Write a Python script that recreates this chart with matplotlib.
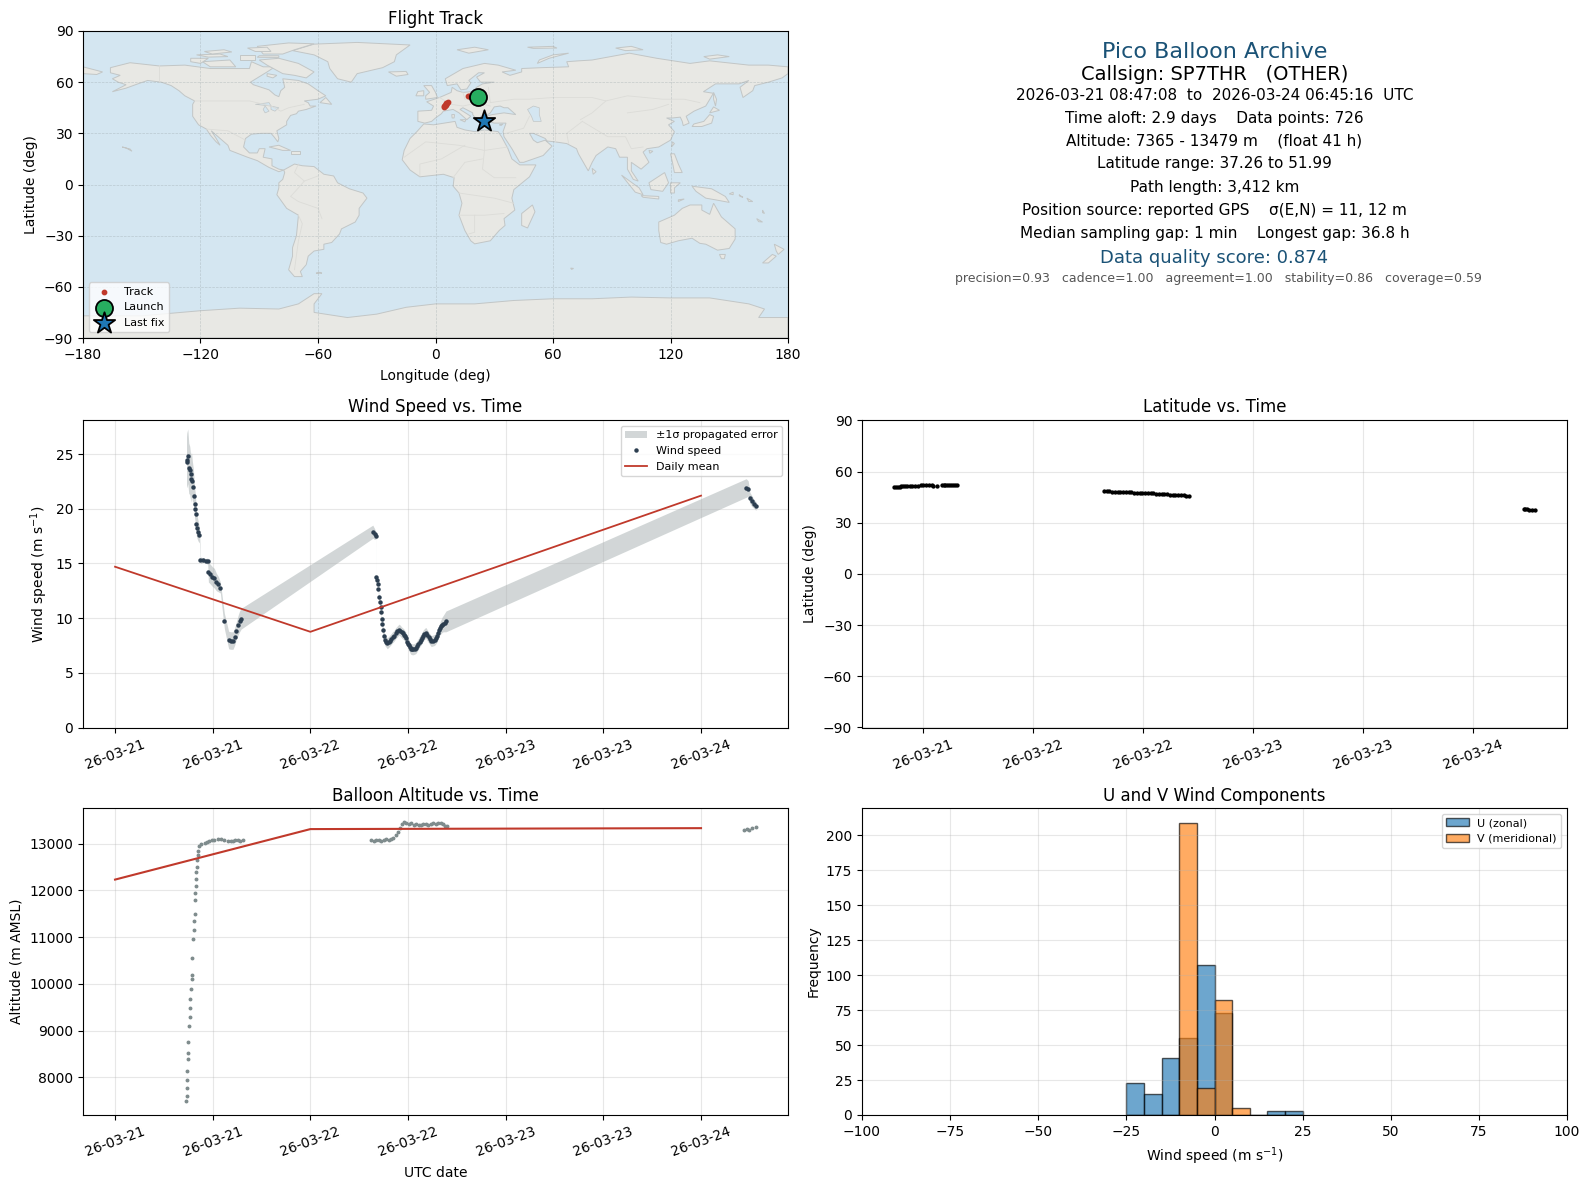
import numpy as np
import pandas as pd
from matplotlib import pyplot as plt
import matplotlib.dates as mdates
from matplotlib.ticker import MultipleLocator

# wind speed samples, hours after 2026-03-21 00:00
wind_hours = [8.78, 8.82, 8.94, 9.06, 9.18, 9.31, 9.39, 9.51, 9.63, 9.71, 9.8, 9.88, 9.92, 10.0, 10.12, 10.24, 10.37,
              10.49, 10.82, 11.14, 11.39, 11.47, 11.67, 11.96, 12.2, 12.45, 12.7, 12.94, 13.43, 13.96, 14.2, 14.49,
              14.69, 14.9, 15.14, 15.3, 15.5,
              31.67, 31.88, 32.08, 32.12, 32.2, 32.29, 32.33, 32.41, 32.54, 32.62, 32.7, 32.74, 32.82, 32.9, 32.99,
              33.15, 33.3, 33.44, 33.6, 33.77, 33.95, 34.1, 34.3, 34.47, 34.7, 34.89, 35.05, 35.2, 35.35, 35.5, 35.62,
              35.75, 35.92, 36.02, 36.12, 36.22, 36.33, 36.5, 36.66, 36.8, 36.95, 37.12, 37.28, 37.42, 37.57, 37.72,
              37.86, 38.02, 38.19, 38.35, 38.52, 38.7, 38.85, 39.05, 39.26, 39.42, 39.59, 39.72, 39.84, 39.96, 40.08,
              40.2, 40.33, 40.5, 40.66,
              77.55, 77.8, 78.0, 78.25, 78.5, 78.75]
wind_speed = [24.3, 24.45, 24.8, 23.7, 23.5, 22.7, 23.2, 22.5, 22.0, 21.2, 20.4, 20.0, 19.5, 18.6, 18.2, 17.9, 17.6,
              15.3, 15.3, 15.25, 15.2, 14.2, 14.05, 13.8, 13.65, 13.3, 13.1, 12.8, 9.75, 8.0, 7.95, 7.95,
              8.3, 8.85, 9.4, 9.7, 9.95,
              17.9, 17.7, 17.55, 13.8, 13.45, 13.15, 12.7, 11.9, 11.45, 11.0, 10.55, 9.95, 9.5, 8.9, 8.4,
              8.0, 7.85, 7.7, 7.8, 7.95, 8.1, 8.25, 8.4, 8.6, 8.8, 8.95, 8.85, 8.7, 8.6, 8.5, 8.35,
              8.2, 7.8, 7.65, 7.5, 7.35, 7.2, 7.15, 7.15, 7.2, 7.25, 7.45, 7.65, 7.85, 8.0, 8.2,
              8.4, 8.55, 8.65, 8.45, 8.25, 8.05, 7.9, 7.95, 8.0, 8.15, 8.35, 8.6, 8.9, 9.1, 9.25,
              9.4, 9.5, 9.6, 9.7,
              21.9, 21.85, 21.0, 20.7, 20.45, 20.25]
wind_sigma = [2.3, 2.5, 2.5, 2.3, 2.2, 2.1, 2.0, 1.8, 1.6, 1.5, 1.4, 1.3, 1.2, 1.1, 1.0, 0.9, 0.7,
              0.3, 0.2, 0.2, 0.3, 0.9, 0.9, 0.9, 0.9, 0.8, 0.7, 0.5, 0.7, 0.8, 0.8, 0.8,
              0.8, 0.8, 0.9, 0.95, 0.95,
              0.6, 0.5, 0.3, 0.2, 0.2, 0.2, 0.2, 0.3, 0.3, 0.3, 0.3, 0.3, 0.4, 0.5, 0.5,
              0.5, 0.5, 0.5, 0.5, 0.5, 0.5, 0.5, 0.5, 0.5, 0.5, 0.5, 0.5, 0.5, 0.5, 0.5, 0.5,
              0.5, 0.5, 0.5, 0.5, 0.5, 0.5, 0.5, 0.5, 0.5, 0.5, 0.5, 0.5, 0.5, 0.5, 0.5,
              0.5, 0.5, 0.5, 0.5, 0.5, 0.5, 0.5, 0.5, 0.5, 0.5, 0.5, 0.5, 0.5, 0.6, 0.65,
              0.7, 0.75, 0.85, 0.95,
              0.85, 0.7, 0.5, 0.5, 0.4, 0.4]

mean_hours = [0, 24, 72]
wind_mean = [14.7, 8.75, 21.2]
alt_mean = [12230, 13310, 13330]

alt_hours = [8.76, 8.78, 8.8, 8.84, 8.86, 8.92, 8.95, 9.0, 9.1, 9.15, 9.2, 9.26, 9.33, 9.4, 9.43, 9.5, 9.6, 9.66, 9.72,
             9.78, 9.84, 9.88, 9.92, 9.96, 10.0, 10.03, 10.1, 10.15, 10.22, 10.35, 10.5,
             11.0, 11.3, 11.6, 11.9, 12.2, 12.6, 13.0, 13.4, 13.9, 14.2, 14.5, 14.8, 15.1, 15.4, 15.7,
             31.5, 31.8, 32.1, 32.4, 32.7, 33.0, 33.3, 33.6, 33.9, 34.2, 34.5, 34.8, 35.0, 35.2, 35.5, 35.8, 36.1, 36.4,
             36.7, 37.0, 37.3, 37.6, 37.9, 38.2, 38.5, 38.8, 39.1, 39.4, 39.7, 40.0, 40.3, 40.6, 40.8,
             77.3, 77.6, 77.9, 78.3, 78.75]
altitude = [7500, 7600, 7780, 7950, 8130, 8400, 8530, 8760, 9100, 9300, 9490, 9680, 9900, 10100, 10200, 10560, 10950,
            11150, 11350, 11500, 11800, 11950, 12100, 12250, 12400, 12500, 12650, 12750, 12850, 12950, 13000,
            13020, 13040, 13060, 13070, 13080, 13090, 13100, 13080, 13060, 13050, 13060, 13080, 13070, 13060, 13070,
            13070, 13060, 13080, 13070, 13060, 13080, 13090, 13080, 13100, 13130, 13180, 13250, 13340, 13420, 13460,
            13440, 13420, 13430, 13400, 13420, 13400, 13390, 13420, 13410, 13400, 13420, 13430, 13420, 13440, 13430,
            13410, 13380, 13370,
            13300, 13310, 13300, 13330, 13350]

lat_hours = [8.8, 9.0, 9.2, 9.4, 9.6, 9.8, 10.0, 10.2, 10.5, 10.8, 11.1, 11.4, 11.7, 12.0, 12.3, 12.6, 12.9, 13.1,
             13.5, 14.0, 14.2, 14.4, 14.6, 14.8, 15.0, 15.2, 15.4, 15.7,
             31.7, 32.0, 32.3, 32.6, 32.9, 33.2, 33.5, 33.8, 34.1, 34.4, 34.7, 35.0, 35.3, 35.6, 35.9, 36.2, 36.5,
             36.8, 37.1, 37.4, 37.7, 38.0, 38.3, 38.6, 38.9, 39.2, 39.5, 39.8, 40.1, 40.4, 40.7, 41.0,
             77.5, 77.7, 77.9, 78.1, 78.4, 78.75]
lat_values = [51.0, 51.1, 51.2, 51.3, 51.4, 51.5, 51.5, 51.6, 51.7, 51.7, 51.8, 51.8, 51.9, 51.9, 51.9, 51.9, 51.9, 51.8,
              51.8, 51.9, 51.9, 51.9, 51.9, 51.9, 51.9, 51.9, 51.9, 51.9,
              48.4, 48.4, 48.4, 48.3, 48.3, 48.2, 48.2, 48.2, 48.1, 48.0, 47.9, 47.7, 47.5, 47.4, 47.4, 47.3, 47.3,
              47.2, 47.2, 47.1, 46.9, 46.8, 46.7, 46.7, 46.6, 46.5, 46.5, 46.4, 46.2, 46.1, 46.0, 45.9,
              38.0, 38.0, 37.9, 37.7, 37.5, 37.26]

track_lon = [4.2, 4.5, 4.8, 5.0, 5.2, 5.4, 5.6, 5.9, 6.2, 16.5, 17.0, 17.5]
track_lat = [45.7, 46.0, 46.3, 46.6, 46.9, 47.2, 47.5, 47.9, 48.3, 51.7, 51.9, 52.0]
launch_lon, launch_lat = 21.9, 51.1
last_lon, last_lat = 24.8, 37.3

# histogram bins
bin_edges = [-25, -20, -15, -10, -5, 0, 5, 10, 15, 20, 25]
u_counts = [23, 15, 41, 55, 107, 73, 0, 0, 3, 3]
v_counts = [0, 0, 0, 209, 19, 82, 5, 0, 0, 0]

# rough coastlines (lon, lat)
north_america = [(-166, 68.5), (-156, 71.4), (-141, 69.5), (-128, 70), (-115, 68), (-108, 68), (-95, 68), (-94, 72), (-88, 69),
                 (-82, 69), (-86, 66), (-94.5, 60), (-93, 58.5), (-85, 55.5), (-82, 52.5), (-80, 51.5), (-79, 55), (-77, 57),
                 (-78, 62), (-70, 61), (-65, 59), (-60, 55), (-56, 52), (-60, 50), (-67, 49), (-65, 48), (-64, 46), (-61, 46),
                 (-66, 44), (-70, 43), (-71, 41.5), (-74, 40.5), (-76, 37), (-76, 35), (-81, 31.5), (-80, 27), (-80.5, 25),
                 (-82.5, 28), (-84, 30), (-89, 30), (-94, 29.5), (-97, 27), (-98, 22), (-95, 18.5), (-91, 18.5), (-90, 21), (-87, 21),
                 (-88, 16), (-83.5, 15), (-83.5, 11), (-80, 9), (-77.5, 8.5), (-80, 7.5), (-85, 10), (-91, 14), (-96, 16),
                 (-105, 20), (-106, 23), (-112, 29), (-114.5, 31.5), (-112, 27), (-110, 23), (-112, 25), (-115, 29),
                 (-117, 32.5), (-121, 35), (-124, 40), (-124, 47), (-123, 49), (-128, 52), (-131, 55), (-135, 58), (-140, 60),
                 (-147, 61), (-152, 59), (-158, 56.5), (-165, 54.4), (-158, 58.5), (-162, 60), (-165, 62), (-161, 64), (-166, 65.5)]
south_america = [(-77.5, 8.5), (-72, 12), (-68, 11), (-62, 10.5), (-57, 6), (-52, 5), (-50, 1), (-44, -2.5), (-37, -5), (-35, -8),
                 (-39, -14), (-39, -18), (-41, -22), (-48, -26), (-49, -29), (-53, -34), (-57, -35), (-57, -38), (-62, -39),
                 (-65, -42), (-66, -47), (-69, -51), (-68, -54), (-72, -54), (-75, -50), (-73, -42), (-73, -37), (-71, -30),
                 (-70, -18), (-76, -14), (-81, -6), (-80, -2), (-80, 1), (-78, 3), (-77, 7)]
africa = [(-6, 35.5), (-1, 35), (10, 37), (11, 33.5), (15, 32), (20, 31), (25, 32), (32, 31), (34, 27.5), (37, 21), (39, 15),
          (43, 11.5), (51.3, 11.5), (48, 4.5), (40, -3), (39, -8), (40.5, -15), (35, -20), (35.5, -24), (32.5, -27), (28, -33),
          (20, -34.8), (18, -33), (15, -27), (12, -18), (13.5, -11), (12, -5), (9, -1), (9.5, 4), (4, 6), (-4, 5), (-8, 4.5),
          (-13, 8.5), (-17, 14.5), (-16, 20), (-13, 27), (-9.5, 31)]
eurasia = [(-9, 37), (-9, 43), (-2, 43.5), (-1, 46), (-4.5, 48.5), (2, 51), (8, 54), (8.5, 57), (11, 55), (14, 54), (19, 54.5),
           (21, 57), (24, 59), (30, 60), (23, 60), (21, 63), (25, 65.5), (22, 65.5), (17, 61), (18, 59.5), (16, 56), (13, 55.5),
           (11, 59), (6, 58), (5, 62), (14, 68), (25, 71), (32, 70), (41, 67), (34, 66), (38, 64), (44, 66), (44, 68), (54, 68.5),
           (68, 69), (67, 72), (73, 72.5), (80, 73), (99, 77), (113, 74), (130, 71), (140, 72.5), (160, 70), (170, 70), (180, 69),
           (180, 65), (177, 62.5), (170, 60), (163, 58), (162, 55), (157, 51), (155.5, 57), (160, 61), (155, 59), (143, 59),
           (136.8, 54.4), (141.9, 53.5), (138, 46), (132, 43), (128, 40), (129.5, 36), (126.5, 34.5), (126, 37), (125, 39.5), (121, 39),
           (118, 39), (122, 37), (119, 35), (122, 31), (120, 26), (114, 22), (108, 21), (106, 19), (109, 13), (105, 9), (100, 13),
           (100, 8), (103.5, 2), (101, 3), (98, 9), (98, 16), (94, 16), (92, 21), (88, 22), (82, 17), (80, 13), (78, 8), (73, 18),
           (72, 21), (67, 24), (61, 25), (57, 25.5), (56, 27), (50, 30), (48, 30), (50, 26), (52, 24.5), (56, 26), (59.5, 22.5),
           (55, 17), (45, 13), (43, 13), (39, 21), (35, 28), (34.5, 31), (36, 36), (30, 36), (27, 37), (26, 40), (29, 41), (35, 42),
           (41, 41), (37, 45), (35, 45), (33, 46), (30, 45.5), (28, 42), (26, 40.5), (23, 40), (24, 38), (22, 36.5), (19, 41),
           (19, 42), (14, 45), (12.5, 44), (16, 41.5), (18, 40), (16, 38), (12, 42), (9, 44), (4, 43), (3, 41.5), (0, 39), (-2, 37),
           (-5.5, 36)]
australia = [(114, -22), (122, -18), (126, -14), (130, -12), (136, -12), (136, -15), (140, -17.5), (142, -11), (146, -19), (153, -26),
             (153, -32), (150, -37.5), (144, -38.5), (138, -35), (135, -34.5), (131, -31.5), (124, -33), (118, -35), (115, -34), (114, -27)]
antarctica = [(-180, -90), (-180, -77), (-150, -77), (-120, -74), (-100, -72.5), (-80, -73), (-70, -70), (-62, -64), (-58, -64), (-62, -70),
              (-62, -75), (-45, -78), (-30, -76), (-15, -72), (0, -70), (20, -70), (40, -68), (60, -67), (80, -67), (100, -66), (120, -66.5),
              (140, -66.5), (160, -70), (168, -73), (165, -78), (180, -78), (180, -90)]
greenland = [(-73, 78.5), (-62, 82.3), (-40, 83.3), (-13, 81.8), (-20, 76), (-21, 72), (-27, 68.5), (-40, 65), (-43, 60),
             (-50, 62), (-54, 68), (-55, 72), (-62, 76)]
islands = [
    [(-90, 73), (-80, 74), (-70, 71), (-62, 66), (-66, 62.5), (-72, 64), (-78, 65), (-86, 70)],
    [(-119, 72), (-105, 73), (-102, 69), (-115, 69)],
    [(-91, 81), (-75, 83), (-62, 82.5), (-72, 79), (-78, 76.5), (-88, 76.5)],
    [(-125, 74), (-116, 74), (-120, 71), (-125, 72)],
    [(-100, 76), (-92, 76), (-92, 73), (-100, 73)],
    [(-122, 76), (-110, 76.5), (-106, 75), (-116, 74.7)],
    [(-96, 80), (-86, 80.5), (-84, 78), (-92, 78)],
    [(-118, 78), (-108, 79), (-104, 77.7), (-114, 76.5)],
    [(-86, 65), (-81, 64), (-83, 62.5), (-86, 63.5)],
    [(-90, 75.5), (-80, 75.5), (-80, 74.5), (-91, 74.6)],
    [(-24, 66), (-15, 66.3), (-14, 64.5), (-20, 63.5)],
    [(-5, 50), (1, 51), (0, 54), (-2, 58), (-6, 58), (-3, 54), (-5, 52)],
    [(-10, 52), (-6, 52), (-6, 55), (-9, 54.5)],
    [(49.5, -12), (50.8, -16), (47, -25.5), (44, -24), (44, -17)],
    [(131, 34), (136, 34), (141, 36), (142, 40), (140, 41), (137, 37), (132, 35.5)],
    [(140, 42), (145, 43.5), (142, 45.5)],
    [(142, 54), (143.5, 50), (143, 46), (142, 50)],
    [(95, 5.5), (104, -2), (106, -6), (102, -4.5)],
    [(105, -6.5), (114, -7), (114, -8.5), (106, -7.5)],
    [(109, 1), (117, 7), (119, 1), (116, -4), (110, -3)],
    [(120, 1), (125, 1), (122, -2), (122, -5), (120, -5)],
    [(131, -1), (141, -2.5), (148, -7), (150, -10.5), (143, -9), (138, -8), (133, -4)],
    [(120, 18), (122, 18), (124, 12), (126, 7), (122, 7), (121, 13)],
    [(124, -9), (127, -8.5), (124, -10)],
    [(150, -5.5), (152, -4.5), (152, -6)],
    [(155, -6), (157, -7.5), (155.5, -7)],
    [(159, -8), (162, -10), (160, -10)],
    [(167, -15), (168, -17), (167, -16.5)],
    [(164, -20), (167, -22), (165, -21.8)],
    [(80, 9.5), (82, 7.5), (80.5, 6)],
    [(121, 25), (122, 24), (120.5, 22)],
    [(109, 20), (111, 19.5), (109.5, 18.3)],
    [(-85, 22), (-80, 23), (-74, 20), (-78, 20)],
    [(-74, 19.5), (-69, 19.5), (-69, 18), (-74, 18)],
    [(-160, 22), (-158, 21.4), (-155, 19.5), (-156, 20.8)],
    [(173, -35), (178, -38), (175, -41), (174, -39)],
    [(172, -41), (174, -42), (170, -46), (167, -46)],
    [(145, -41), (148, -41), (147.5, -43.5), (146, -43.5)],
    [(52, 71), (58, 74), (68, 77), (60, 76), (53, 73)],
    [(11, 79), (20, 80.5), (27, 79), (17, 77)],
    [(92, 80), (100, 81), (106, 79), (97, 78.5)],
    [(137, 75), (144, 76), (150, 75), (140, 73.5)],
    [(47, 80.5), (60, 81), (62, 80), (50, 79.8)],
    [(-59, -51.5), (-58, -52), (-61, -52)],
    [(-56, 51), (-53, 47), (-59, 48)],
    [(-180, 69), (-170, 66), (-173, 64.5), (-180, 65)],
    [(12.5, 38), (15.5, 38), (15, 36.7)],
    [(8.3, 41), (9.7, 41), (9.5, 39), (8.5, 39)],
    [(23.5, 35.5), (26, 35.2), (24, 35)],
    [(32.5, 35), (34.5, 35.5), (33.5, 34.6)],
    [(69, -49), (70.5, -49.2), (69.5, -49.8)],
]
lakes = [
    [(50, 46), (53, 45), (53, 41), (54, 37), (50, 37), (49, 40), (47, 44)],
    [(-92, 47), (-85, 48), (-84, 46), (-88, 46.5)],
    [(-87, 46), (-85, 43), (-87, 42), (-88, 44)],
    [(-84, 46), (-80, 45), (-82, 43), (-84, 44)],
]
borders = [
    [(-141, 70), (-141, 60)], [(-123, 49), (-95, 49), (-84, 46), (-79, 43), (-75, 45), (-67, 47)],
    [(-117, 32.5), (-106, 31.5), (-97, 26)], [(-70, -18), (-68, -23), (-70, -33), (-72, -50)],
    [(-58, -20), (-60, -14), (-70, -10), (-74, -7), (-70, -2), (-67, 2), (-60, 5)], [(-70, 12), (-72, 7), (-67, 2)],
    [(-16, 16), (-5, 25), (12, 23), (25, 20), (37, 22)], [(25, 32), (25, 20), (24, 9), (30, 4), (41, 4)],
    [(9, 4), (15, 13), (24, 15)], [(-8, 5), (-8, 12), (3, 15), (15, 23)], [(12, -5), (30, -8), (40, -11)],
    [(12, -18), (25, -18), (35, -17)], [(20, -18), (20, -28), (17, -29)],
    [(27, 57), (28, 48), (40, 50), (48, 50), (60, 51), (80, 51), (87, 49), (98, 52), (116, 50), (127, 50), (135, 48)],
    [(48, 40), (45, 33), (36, 30)], [(61, 36), (61, 25)], [(75, 37), (67, 30), (68, 24)], [(75, 37), (88, 28), (97, 28), (100, 21), (106, 22)],
    [(87, 49), (80, 42), (74, 38)], [(98, 42), (111, 44), (119, 47)], [(2, 51), (8, 47), (14, 46), (22, 48), (28, 46)], [(14, 54), (15, 50), (24, 50)],
]

map_title = "Flight Track"
info_lines = ["Pico Balloon Archive", "Callsign: SP7THR   (OTHER)", "2026-03-21 08:47:08  to  2026-03-24 06:45:16  UTC",
              "Time aloft: 2.9 days    Data points: 726", "Altitude: 7365 - 13479 m    (float 41 h)",
              "Latitude range: 37.26 to 51.99", "Path length: 3,412 km", "Position source: reported GPS    σ(E,N) = 11, 12 m",
              "Median sampling gap: 1 min    Longest gap: 36.8 h", "Data quality score: 0.874",
              "precision=0.93   cadence=1.00   agreement=1.00   stability=0.86   coverage=0.59"]
info_x = [1214.5, 1214.5, 1214.5, 1214.5, 1214.5, 1214.5, 1214.5, 1214.5, 1214.5, 1214.5, 1218.5]
info_y = [52, 74, 95.3, 118.6, 140.5, 163.8, 187.3, 210.8, 233.8, 258, 279]
info_size = [16, 14, 11, 11, 11, 11, 11, 11, 11, 13, 9]
info_color = ["#1a5276", "black", "black", "black", "black", "black", "black", "black", "black", "#1a5276", "#555555"]

DARK = "#2c3e50"
GREY = "#7f8c8d"
RED = "#c0392b"
W, H = 1590.0, 1189.0


def make_axes(fig, left, right, top, bottom):
    return fig.add_axes([left / W, 1 - bottom / H, (right - left) / W, (bottom - top) / H])


def to_dates(hours):
    return pd.Timestamp("2026-03-21") + pd.to_timedelta(hours, unit="h")


def date_axis(ax):
    ax.xaxis.set_major_locator(mdates.HourLocator(byhour=[0, 12]))
    ax.xaxis.set_major_formatter(mdates.DateFormatter("%y-%m-%d"))
    ax.tick_params(axis="x", rotation=20)
    ax.grid(True, alpha=0.3)


fig = plt.figure(figsize=(15.9, 11.89), dpi=100)

# map
ax = make_axes(fig, 83, 788, 31, 338)
ax.set_facecolor("#d4e6f1")
for poly in [north_america, south_america, africa, eurasia, australia, antarctica, greenland] + islands:
    xs, ys = zip(*poly)
    ax.fill(xs, ys, facecolor="#e8e8e4", edgecolor="#c2c6c6", linewidth=0.7, zorder=1)
for poly in lakes:
    xs, ys = zip(*poly)
    ax.fill(xs, ys, facecolor="#d4e6f1", edgecolor="#c2c6c6", linewidth=0.5, zorder=1.1)
for line in borders:
    xs, ys = zip(*line)
    ax.plot(xs, ys, color="#dcdcd8", linewidth=0.6, zorder=1.2)
ax.scatter(track_lon, track_lat, s=10, color=RED, label="Track", zorder=4)
ax.scatter([launch_lon], [launch_lat], s=150, color="#27ae60", edgecolor="black", linewidth=1.3, label="Launch", zorder=5)
ax.scatter([last_lon], [last_lat], s=260, marker="*", color="#1f77b4", edgecolor="black", linewidth=1.3, label="Last fix", zorder=5)
ax.set_xlim(-180, 180)
ax.set_ylim(-90, 90)
ax.xaxis.set_major_locator(MultipleLocator(60))
ax.yaxis.set_major_locator(MultipleLocator(30))
ax.grid(True, linestyle="--", linewidth=0.5, color="#9aa5a8", alpha=0.45)
ax.set_xlabel("Longitude (deg)", labelpad=5)
ax.set_ylabel("Latitude (deg)")
ax.set_title(map_title, pad=5)
ax.legend(loc="lower left", fontsize=8)

# summary text
for line, x, y, size, color in zip(info_lines, info_x, info_y, info_size, info_color):
    fig.text(x / W, 1 - y / H, line, fontsize=size, color=color, ha="center", va="center")

# wind speed
ax = make_axes(fig, 83, 788, 420.5, 727.5)
hours = np.array(wind_hours)
speed = np.array(wind_speed)
sigma = np.array(wind_sigma)
ax.fill_between(to_dates(hours), speed - sigma, speed + sigma, color=GREY, alpha=0.35, linewidth=0, label="±1σ propagated error")
ax.plot(to_dates(hours), speed, ".", color=DARK, markersize=4.4, label="Wind speed")
ax.plot(to_dates(np.array(mean_hours)), wind_mean, color=RED, linewidth=1.3, label="Daily mean")
ax.set_ylim(0, 28.07)
ax.set_ylabel("Wind speed (m s$^{-1}$)")
ax.set_title("Wind Speed vs. Time")
date_axis(ax)
ax.legend(loc="upper right", fontsize=8)

# latitude
ax = make_axes(fig, 862, 1567, 420.5, 727.5)
ax.plot(to_dates(np.array(lat_hours)), lat_values, ".", color="black", markersize=4.2)
ax.set_ylim(-90, 90)
ax.yaxis.set_major_locator(MultipleLocator(30))
ax.set_ylabel("Latitude (deg)")
ax.set_title("Latitude vs. Time")
date_axis(ax)

# altitude
ax = make_axes(fig, 83, 788, 808, 1115)
ax.plot(to_dates(np.array(alt_hours)), altitude, ".", color=GREY, markersize=3.6)
ax.plot(to_dates(np.array(mean_hours)), alt_mean, color=RED, linewidth=1.5)
ax.set_ylim(7196, 13761)
ax.set_xlabel("UTC date", labelpad=4.5)
ax.set_ylabel("Altitude (m AMSL)")
ax.set_title("Balloon Altitude vs. Time", pad=5)
date_axis(ax)

# U and V histogram
ax = make_axes(fig, 862, 1567, 808, 1115)
ax.bar(bin_edges[:-1], u_counts, width=5, align="edge", color="#1f77b4", alpha=0.65, edgecolor="black", label="U (zonal)")
ax.bar(bin_edges[:-1], v_counts, width=5, align="edge", color="#ff7f0e", alpha=0.65, edgecolor="black", label="V (meridional)")
ax.set_xlim(-100, 100)
ax.set_ylim(0, 219.6)
ax.set_xlabel("Wind speed (m s$^{-1}$)", labelpad=5)
ax.set_ylabel("Frequency")
ax.set_title("U and V Wind Components", pad=5)
ax.grid(True, alpha=0.3)
ax.legend(loc="upper right", fontsize=8)

fig.savefig("out.png", dpi=100)
